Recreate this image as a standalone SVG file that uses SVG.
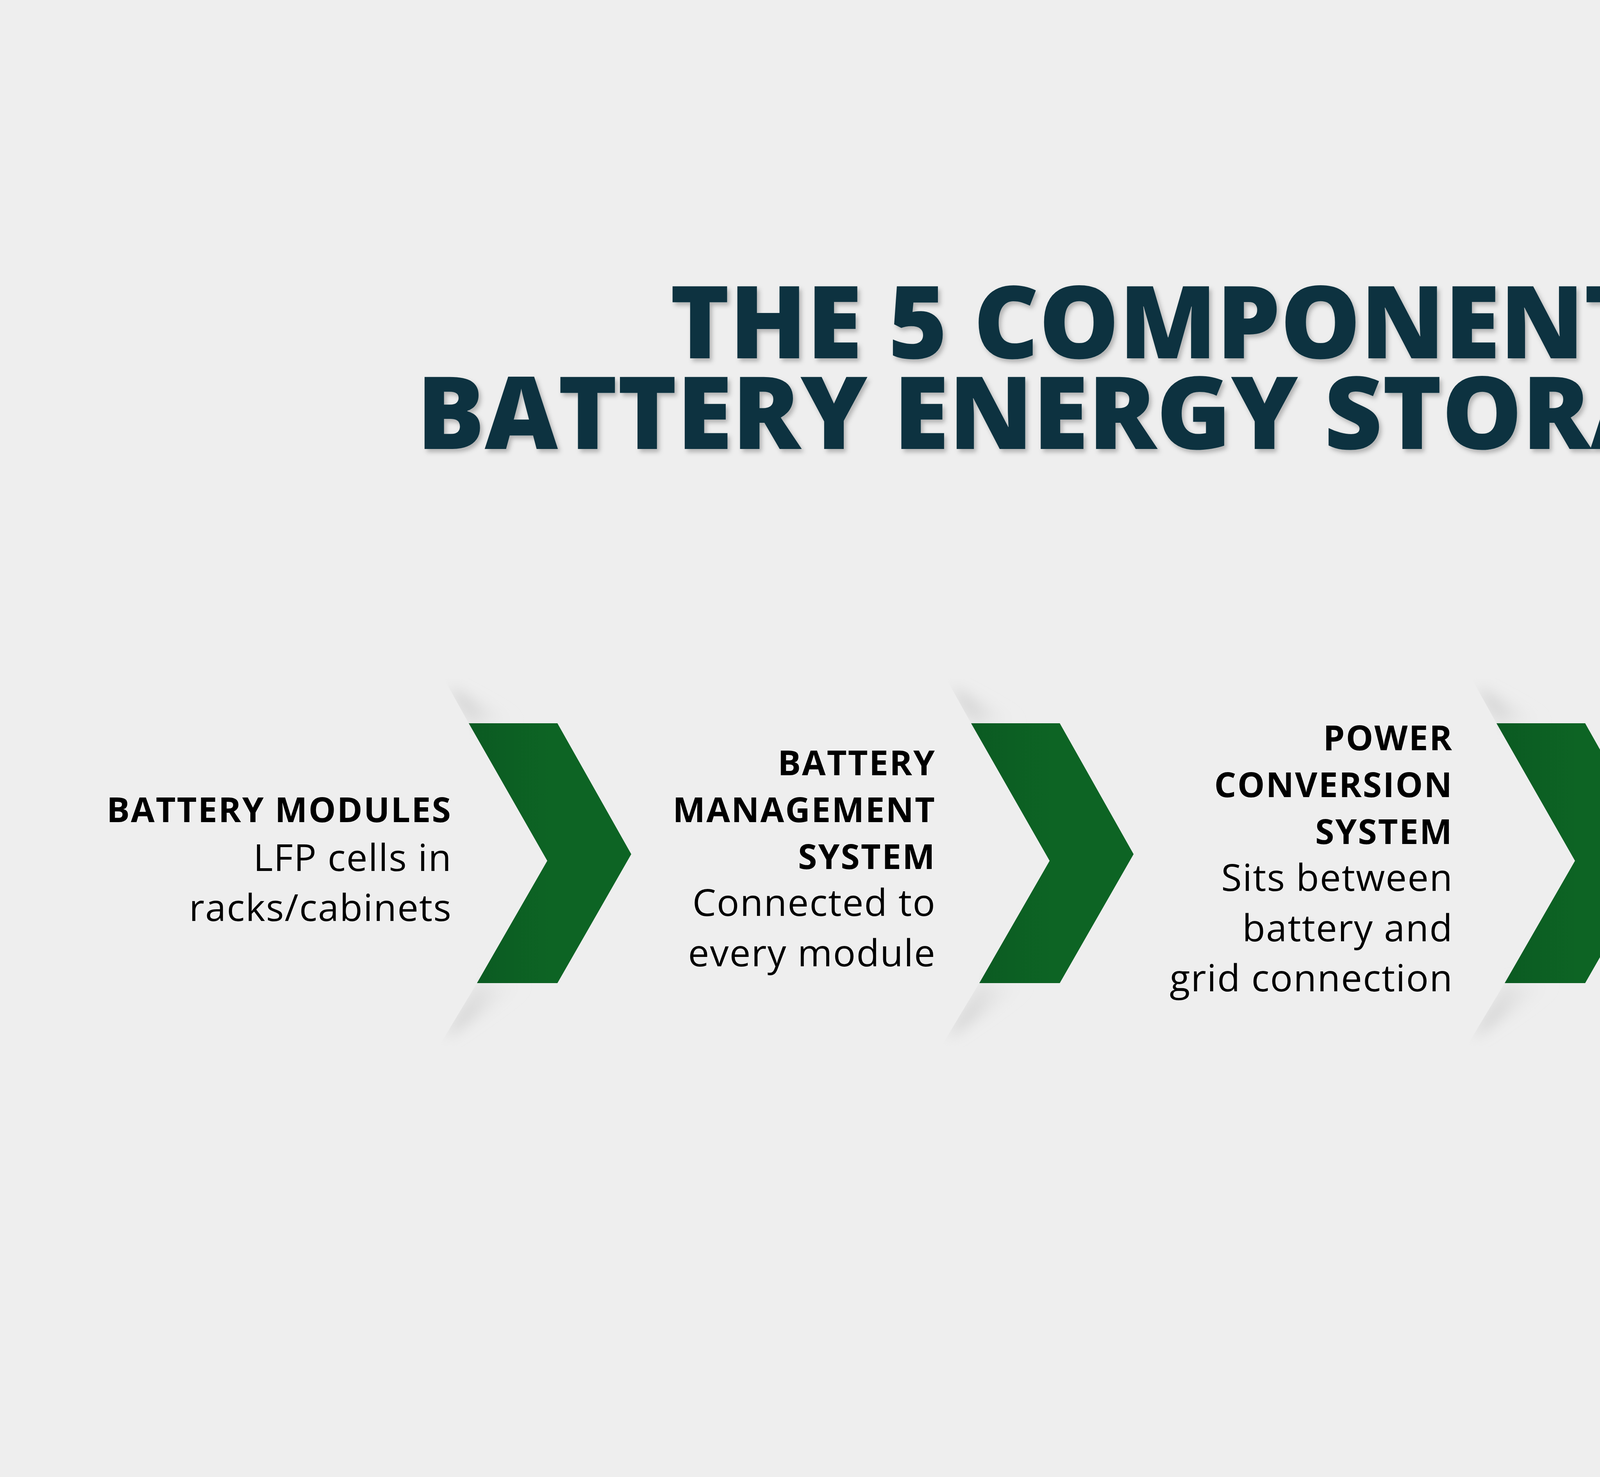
<svg xmlns="http://www.w3.org/2000/svg" width="6720" height="3780" viewBox="0 0 6720 3780">
<defs>
<style>
.t{font-family:"Open Sans","Liberation Sans",sans-serif;font-weight:800;fill:#0c3340;font-size:258px;text-anchor:middle}
.h{font-family:"Open Sans","Liberation Sans",sans-serif;font-weight:700;font-size:88px;fill:#000;text-anchor:end;letter-spacing:3px}
.b{font-family:"Open Sans","Liberation Sans",sans-serif;font-size:96px;fill:#000;text-anchor:end;letter-spacing:2px}
.chev{fill:url(#g)}
</style>
<linearGradient id="g" x1="0" y1="0" x2="1" y2="0">
<stop offset="0" stop-color="#0b5a22"/><stop offset="0.5" stop-color="#0d6424"/><stop offset="1" stop-color="#0d6424"/>
</linearGradient>
<linearGradient id="sh" x1="0" y1="0" x2="1" y2="0">
<stop offset="0" stop-color="#b8b8b8" stop-opacity="0.8"/><stop offset="1" stop-color="#eeeeee" stop-opacity="0"/>
</linearGradient>
<filter id="bl" x="-50%" y="-50%" width="200%" height="200%"><feGaussianBlur stdDeviation="18"/></filter>
<filter id="ts"><feDropShadow dx="6" dy="8" stdDeviation="6" flood-color="#000" flood-opacity="0.25"/></filter>
<clipPath id="cp"><polygon points="1136,1736 1200,1851 1221,2516 1123,2679 1700,2679 1700,1736"/></clipPath>
<g id="chev">
<g clip-path="url(#cp)">
<polygon points="1150,1760 1200,1851 1330,1851" fill="url(#sh)" filter="url(#bl)"/>
<polygon points="1140,2655 1221,2516 1350,2516" fill="url(#sh)" filter="url(#bl)"/>
</g>
<polygon class="chev" points="1200,1851 1427,1851 1616,2186 1427,2516 1221,2516 1401,2203"/>
</g>
</defs>
<rect width="6720" height="3780" fill="#eeeeee"/>
<g id="title" filter="url(#ts)">
<text class="t" x="3369" y="917">THE 5 COMPONENTS OF A</text>
<text class="t" x="3369" y="1149">BATTERY ENERGY STORAGE SYSTEM</text>
</g>
<g id="connectors">
<use href="#chev"/>
<use href="#chev" x="1286"/>
<use href="#chev" x="2631"/>
<use href="#chev" x="3981"/>
</g>
<g id="n1">
<text class="h" x="1157" y="2104">BATTERY MODULES</text>
<text class="b" x="1157" y="2229">LFP cells in</text>
<text class="b" x="1157" y="2357">racks/cabinets</text>
</g>
<g id="n2">
<text class="h" x="2396" y="1984">BATTERY</text>
<text class="h" x="2396" y="2104">MANAGEMENT</text>
<text class="h" x="2396" y="2224">SYSTEM</text>
<text class="b" x="2396" y="2344">Connected to</text>
<text class="b" x="2396" y="2473">every module</text>
</g>
<g id="n3">
<text class="h" x="3720" y="1920">POWER</text>
<text class="h" x="3720" y="2040">CONVERSION</text>
<text class="h" x="3720" y="2160">SYSTEM</text>
<text class="b" x="3720" y="2280">Sits between</text>
<text class="b" x="3720" y="2409">battery and</text>
<text class="b" x="3720" y="2537">grid connection</text>
</g>
<g id="n4">
<text class="h" x="5083" y="1920">ENERGY</text>
<text class="h" x="5083" y="2040">MANAGEMENT</text>
<text class="h" x="5083" y="2160">SYSTEM</text>
<text class="b" x="5083" y="2280">Software layer</text>
<text class="b" x="5083" y="2409">connecting</text>
<text class="b" x="5083" y="2537">components</text>
</g>
<g id="n5">
<text class="h" x="6429" y="1920">THERMAL</text>
<text class="h" x="6429" y="2040">MANAGEMENT</text>
<text class="h" x="6429" y="2160">SYSTEM</text>
<text class="b" x="6429" y="2280">Liquid cooling</text>
<text class="b" x="6429" y="2409">channels</text>
<text class="b" x="6429" y="2537">around modules</text>
</g>
</svg>
